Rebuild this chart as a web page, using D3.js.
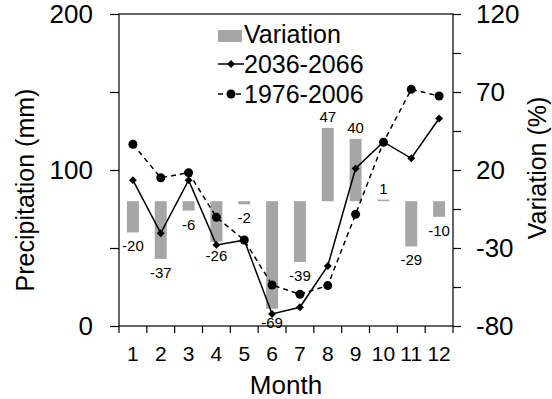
<!DOCTYPE html>
<html>
<head>
<meta charset="utf-8">
<script src="https://cdn.jsdelivr.net/npm/d3@7/dist/d3.min.js"></script>
<style>
  html, body { margin: 0; padding: 0; background: #fff; }
  svg { display: block; font-family: "Liberation Sans", Arial, sans-serif; }
</style>
</head>
<body>
<svg id="chart" width="552" height="399"></svg>
<script>
// Monthly precipitation for two periods and the relative change between them
const months = ["1", "2", "3", "4", "5", "6", "7", "8", "9", "10", "11", "12"];
const future = [93.5, 59.5, 93.5, 52, 55, 7.7, 12, 38.5, 101, 118, 107.5, 133];   // 2036-2066
const past = [116.5, 95, 98.3, 69.7, 55.1, 26.3, 20.3, 25.9, 71.6, 117.8, 151.7, 147.4]; // 1976-2006
const variation = [-20, -37, -6, -26, -2, -69, -39, 47, 40, 1, -29, -10];
const leftTicks = [0, 50, 100, 150, 200];
const leftLabels = [0, 100, 200];
const rightTicks = [-80, -55, -30, -5, 20, 45, 70, 95, 120];
const rightLabels = [-80, -30, 20, 70, 120];

const svg = d3.select("#chart");
const plotL = 119, plotR = 453, plotT = 14, plotB = 326;

const x = d3.scaleBand().domain(months).range([plotL, plotR]).padding(0);
const yL = d3.scaleLinear().domain([0, 200]).range([plotB, plotT]);
const yR = d3.scaleLinear().domain([-80, 120]).range([plotB, plotT]);
const cx = m => x(m) + x.bandwidth() / 2;

const barW = x.bandwidth() * 0.43;
const gray = "#a6a6a6";

// Variation bars, anchored at 0 %
svg.append("g").selectAll("rect").data(variation).join("rect")
  .attr("x", (d, i) => cx(months[i]) - barW / 2)
  .attr("y", d => Math.min(yR(d), yR(0)))
  .attr("width", barW)
  .attr("height", d => Math.abs(yR(d) - yR(0)))
  .attr("fill", gray);

// Value labels beside each bar end
svg.append("g").selectAll("text").data(variation).join("text")
  .attr("x", (d, i) => cx(months[i]))
  .attr("y", d => d >= 0 ? yR(d) - 6 : yR(d) + 19)
  .attr("text-anchor", "middle")
  .attr("font-size", 15)
  .attr("fill", "#000")
  .text(d => d);

// Precipitation lines
const line = d3.line().x((d, i) => cx(months[i])).y(d => yL(d));

svg.append("path").datum(past)
  .attr("d", line).attr("fill", "none")
  .attr("stroke", "#000").attr("stroke-width", 1.5)
  .attr("stroke-dasharray", "5,4");

svg.append("path").datum(future)
  .attr("d", line).attr("fill", "none")
  .attr("stroke", "#000").attr("stroke-width", 1.5);

const diamond = d3.symbol().type(d3.symbolDiamond2).size(40);

svg.append("g").selectAll("circle").data(past).join("circle")
  .attr("cx", (d, i) => cx(months[i]))
  .attr("cy", d => yL(d))
  .attr("r", 4.5).attr("fill", "#000");

svg.append("g").selectAll("path").data(future).join("path")
  .attr("d", diamond)
  .attr("transform", (d, i) => `translate(${cx(months[i])},${yL(d)})`)
  .attr("fill", "#000");

// Frame
svg.append("rect")
  .attr("x", plotL).attr("y", plotT)
  .attr("width", plotR - plotL).attr("height", plotB - plotT)
  .attr("fill", "none").attr("stroke", "#000").attr("stroke-width", 1.2);

// Left axis
const gL = svg.append("g").attr("transform", `translate(${plotL},0)`)
  .call(d3.axisLeft(yL).tickValues(leftTicks).tickSize(9)
    .tickFormat(d => leftLabels.includes(d) ? d : ""));
// Right axis
const gR = svg.append("g").attr("transform", `translate(${plotR},0)`)
  .call(d3.axisRight(yR).tickValues(rightTicks).tickSize(8)
    .tickFormat(d => rightLabels.includes(d) ? d : ""));
// Bottom axis: labels at band centres, ticks at band boundaries
const gB = svg.append("g").attr("transform", `translate(0,${plotB})`)
  .call(d3.axisBottom(x).tickSize(0).tickPadding(0));

[gL, gR, gB].forEach(g => {
  g.select(".domain").remove();
  g.selectAll("line").attr("stroke", "#000").attr("stroke-width", 1.2);
});
gL.selectAll("text").attr("font-size", 26).attr("x", -26).attr("fill", "#000")
  .attr("font-family", "Liberation Sans, Arial, sans-serif");
gR.selectAll("text").attr("font-size", 26).attr("x", 23).attr("fill", "#000")
  .attr("font-family", "Liberation Sans, Arial, sans-serif");
gB.selectAll("text").attr("font-size", 21).attr("y", 35).attr("dy", 0).attr("fill", "#000")
  .attr("font-family", "Liberation Sans, Arial, sans-serif");

const bounds = months.map(m => x(m)).concat([plotR]);
svg.append("g").selectAll("line").data(bounds).join("line")
  .attr("x1", d => d).attr("x2", d => d)
  .attr("y1", plotB).attr("y2", plotB + 7)
  .attr("stroke", "#000").attr("stroke-width", 1.2);

// Axis titles
svg.append("text")
  .attr("transform", "translate(34,190) rotate(-90)")
  .attr("text-anchor", "middle").attr("font-size", 25)
  .text("Precipitation (mm)");
svg.append("text")
  .attr("transform", "translate(546,168) rotate(-90)")
  .attr("text-anchor", "middle").attr("font-size", 25)
  .text("Variation (%)");
svg.append("text")
  .attr("x", (plotL + plotR) / 2).attr("y", 394)
  .attr("text-anchor", "middle").attr("font-size", 26)
  .text("Month");

// Legend
const lg = svg.append("g");
lg.append("rect").attr("x", 218).attr("y", 30).attr("width", 24).attr("height", 12).attr("fill", gray);
lg.append("text").attr("x", 244).attr("y", 43).attr("font-size", 25).text("Variation");

lg.append("line").attr("x1", 218).attr("x2", 244).attr("y1", 64).attr("y2", 64)
  .attr("stroke", "#000").attr("stroke-width", 1.5);
lg.append("path").attr("d", diamond).attr("transform", "translate(231,64)");
lg.append("text").attr("x", 244).attr("y", 73).attr("font-size", 25).text("2036-2066");

lg.append("line").attr("x1", 218).attr("x2", 244).attr("y1", 94).attr("y2", 94)
  .attr("stroke", "#000").attr("stroke-width", 1.5).attr("stroke-dasharray", "5,4");
lg.append("circle").attr("cx", 231).attr("cy", 94).attr("r", 4.5);
lg.append("text").attr("x", 244).attr("y", 103).attr("font-size", 25).text("1976-2006");
</script>
</body>
</html>
